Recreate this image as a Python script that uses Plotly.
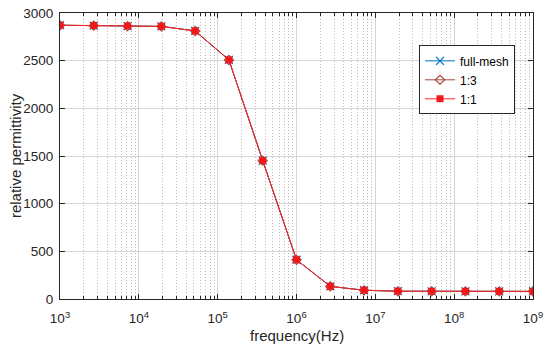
import plotly.graph_objects as go

freq = [1.0e3, 2.683e3, 7.197e3, 1.931e4, 5.179e4, 1.3895e5, 3.728e5, 1.0e6,
        2.683e6, 7.197e6, 1.931e7, 5.179e7, 1.3895e8, 3.728e8, 1.0e9]
full_mesh = [2872, 2868, 2863, 2860, 2812, 2508, 1452, 412, 133, 92, 82, 80, 80, 80, 80]
ratio_1_3 = [2871, 2867, 2862, 2859, 2811, 2507, 1451, 411, 132, 91, 81, 80, 80, 80, 80]
ratio_1_1 = [2872, 2868, 2863, 2860, 2812, 2508, 1452, 412, 133, 92, 82, 80, 80, 80, 80]

xtick_vals = [1e3, 1e4, 1e5, 1e6, 1e7, 1e8, 1e9]
xtick_text = ["10<sup>3</sup>", "10<sup>4</sup>", "10<sup>5</sup>", "10<sup>6</sup>",
              "10<sup>7</sup>", "10<sup>8</sup>", "10<sup>9</sup>"]
ytick_vals = [0, 500, 1000, 1500, 2000, 2500, 3000]

# minor gridline positions (2..9 within each decade)
minor_vals = [m * d for d in xtick_vals[:-1] for m in range(2, 10)]

FONT = "Liberation Sans, Arial, sans-serif"
INK = "#262626"

fig = go.Figure()
fig.add_trace(go.Scatter(x=freq, y=full_mesh, name="full-mesh", mode="lines+markers",
                         line=dict(color="#0072BD", width=1),
                         marker=dict(symbol="x-thin", size=8, line=dict(color="#0072BD", width=1.2))))
fig.add_trace(go.Scatter(x=freq, y=ratio_1_3, name="1:3", mode="lines+markers",
                         line=dict(color="#A8473A", width=1),
                         marker=dict(symbol="diamond-open", size=7, color="#A8473A", line=dict(width=1.2))))
fig.add_trace(go.Scatter(x=freq, y=ratio_1_1, name="1:1", mode="lines+markers",
                         line=dict(color="#FF2020", width=1),
                         marker=dict(symbol="square", size=7, color="#F01818")))

axis_common = dict(showline=True, linecolor=INK, linewidth=1, mirror="ticks",
                   ticks="inside", ticklen=5, tickcolor=INK, automargin=False,
                   ticklabeloverflow="allow",
                   gridcolor="#D6D6D6", gridwidth=1, zeroline=False,
                   tickfont=dict(family=FONT, size=13.5, color=INK))

fig.update_xaxes(type="log", range=[3, 9], tickvals=xtick_vals, ticktext=xtick_text,
                 ticklabelstandoff=7,
                 minor=dict(tickvals=minor_vals, ticks="inside", ticklen=3, tickcolor=INK,
                            showgrid=True, griddash="1px,2px", gridcolor="#BBBBBB", gridwidth=1),
                 **axis_common)
fig.update_yaxes(range=[0, 3000], tickvals=ytick_vals, ticklabelstandoff=3,
                 **axis_common)

fig.add_annotation(text="frequency(Hz)", xref="paper", yref="paper", x=0.5, y=-0.128,
                   xanchor="center", yanchor="middle", showarrow=False,
                   font=dict(family=FONT, size=15, color=INK))
fig.add_annotation(text="relative permittivity", xref="paper", yref="paper", x=-0.095, y=0.5,
                   xanchor="center", yanchor="middle", showarrow=False, textangle=-90,
                   font=dict(family=FONT, size=15, color=INK))

fig.update_layout(width=550, height=356, margin=dict(l=60, r=17, t=12.5, b=57),
                  plot_bgcolor="white", paper_bgcolor="white",
                  legend=dict(x=0.759, y=0.887, xanchor="left", yanchor="top",
                              bgcolor="white", bordercolor=INK, borderwidth=1,
                              font=dict(family=FONT, size=12, color="#000000"),
                              tracegroupgap=0, itemwidth=30))

# remove the page body's default 8px margin so the figure sits at the page origin
fig.write_html("out.html", config={"displayModeBar": False},
               post_script="document.body.style.margin='0';")
